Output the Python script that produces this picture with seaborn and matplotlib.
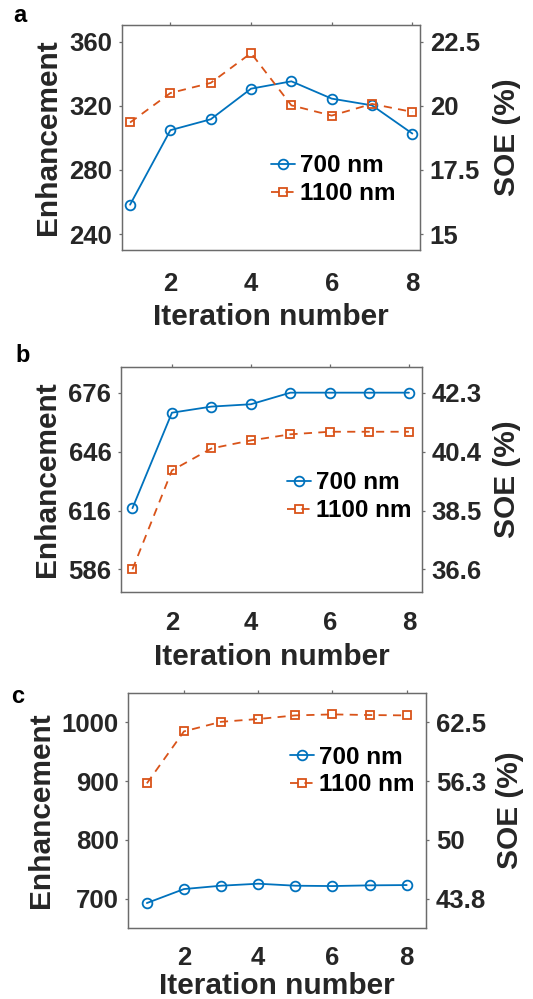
import matplotlib
matplotlib.use("Agg")
import matplotlib.pyplot as plt
import seaborn as sns
import pandas as pd

# ---------------- data ----------------
iterations = [1, 2, 3, 4, 5, 6, 7, 8]

a_700 = [258.3, 304.8, 311.6, 330.7, 335.3, 324.5, 320.3, 302.7]
a_1100 = [309.6, 328.0, 334.3, 352.9, 320.3, 313.9, 321.2, 316.2]

b_700 = [617.2, 665.8, 668.9, 670.1, 676.0, 676.0, 676.0, 676.0]
b_1100 = [586.0, 636.4, 647.6, 651.7, 654.8, 656.1, 656.1, 656.1]

c_700 = [692.6, 716.4, 722.1, 725.5, 722.1, 721.5, 722.7, 723.2]
c_1100 = [896.2, 984.7, 1001.0, 1005.7, 1011.9, 1013.6, 1012.5, 1011.9]

series_labels = ["700 nm", "1100 nm"]
panel_letters = ["a", "b", "c"]

enh_ticks_a = [240, 280, 320, 360]
enh_ticks_b = [586, 616, 646, 676]
enh_ticks_c = [700, 800, 900, 1000]

soe_labels_a = ["15", "17.5", "20", "22.5"]
soe_labels_b = ["36.6", "38.5", "40.4", "42.3"]
soe_labels_c = ["43.8", "50", "56.3", "62.5"]

x_ticks = [2, 4, 6, 8]
SOE_PER_ENH = 1 / 16.0

# ---------------- style ----------------
sns.set_theme(style="white")
plt.rcParams["font.family"] = ["Liberation Sans", "DejaVu Sans"]
plt.rcParams["font.weight"] = "bold"

BLUE = "#0072BD"
ORANGE = "#D95319"
SPINE = "#6b6b6b"
TXT = "#262626"

fig = plt.figure(figsize=(5.33, 9.99), dpi=100)

panels = [
    dict(rect=[0.2289, 0.7497, 0.5591, 0.2252], d700=a_700, d1100=a_1100,
         ylim=(230, 370.4), xlim=(0.8, 8.19), eticks=enh_ticks_a, slabels=soe_labels_a,
         leg=(0.499, 0.312), xlab_y=-0.298, ylab_x=-0.249, rlab_x=1.291, xpad=13.0,
         letter=(20 / 533, 1 - 15 / 999)),
    dict(rect=[0.2270, 0.4074, 0.5647, 0.2255], d700=b_700, d1100=b_1100,
         ylim=(574.5, 689.2), xlim=(0.71, 8.33), eticks=enh_ticks_b, slabels=soe_labels_b,
         leg=(0.5505, 0.4236), xlab_y=-0.288, ylab_x=-0.247, rlab_x=1.281, xpad=11.0,
         letter=(22.5 / 533, 1 - 355 / 999)),
    dict(rect=[0.2407, 0.0714, 0.5585, 0.2352], d700=c_700, d1100=c_1100,
         ylim=(650.7, 1050.5), xlim=(0.5, 8.52), eticks=enh_ticks_c, slabels=soe_labels_c,
         leg=(0.543, 0.667), xlab_y=-0.249, ylab_x=-0.293, rlab_x=1.282, xpad=11.0,
         letter=(17.5 / 533, 1 - 696.7 / 999)),
]

for letter, p in zip(panel_letters, panels):
    ax = fig.add_axes(p["rect"])
    df = pd.DataFrame({"it": iterations, "e700": p["d700"], "e1100": p["d1100"]})
    sns.lineplot(data=df, x="it", y="e700", ax=ax, color=BLUE, lw=1.3,
                 marker="o", markersize=7, markerfacecolor="none",
                 markeredgecolor=BLUE, markeredgewidth=1.3, label=series_labels[0])
    sns.lineplot(data=df, x="it", y="e1100", ax=ax, color=ORANGE, lw=1.3,
                 linestyle=(0, (4.5, 3.5)), marker="s", markersize=5.5,
                 markerfacecolor="none", markeredgecolor=ORANGE,
                 markeredgewidth=1.3, label=series_labels[1])

    ax.set_xlim(*p["xlim"])
    ax.set_ylim(*p["ylim"])
    ax.set_xticks(x_ticks)
    ax.set_yticks(p["eticks"])
    ax.tick_params(axis="both", which="both", direction="out", length=2.5,
                   width=0.9, color=SPINE, labelcolor=TXT, labelsize=18.5)
    ax.tick_params(axis="x", top=True, labeltop=False, pad=p["xpad"])
    ax.tick_params(axis="y", pad=4.5)
    for lab in ax.get_xticklabels() + ax.get_yticklabels():
        lab.set_fontweight("bold")
    for s in ax.spines.values():
        s.set_color(SPINE)
        s.set_linewidth(0.9)
        s.set_visible(True)

    ax.set_xlabel("Iteration number", fontsize=21.5, fontweight="bold",
                  color=TXT, va="center")
    ax.xaxis.set_label_coords(0.5, p["xlab_y"])
    ax.set_ylabel("Enhancement", fontsize=21.5, fontweight="bold",
                  color=TXT, va="center")
    ax.yaxis.set_label_coords(p["ylab_x"], 0.5)

    leg = ax.legend(loc="center left", bbox_to_anchor=p["leg"], frameon=False,
                    fontsize=17.5, handlelength=1.0, handletextpad=0.2,
                    labelspacing=0.2, borderpad=0, borderaxespad=0)
    for t in leg.get_texts():
        t.set_fontweight("bold")
        t.set_color("black")

    ax2 = ax.twinx()
    ax2.set_ylim(p["ylim"][0] * SOE_PER_ENH, p["ylim"][1] * SOE_PER_ENH)
    ax2.set_yticks([t * SOE_PER_ENH for t in p["eticks"]])
    ax2.set_yticklabels(p["slabels"])
    ax2.tick_params(axis="y", direction="out", length=2.5, width=0.9, color=SPINE,
                    labelcolor=TXT, labelsize=18.5, pad=4.5)
    for lab in ax2.get_yticklabels():
        lab.set_fontweight("bold")
    for s in ax2.spines.values():
        s.set_color(SPINE)
        s.set_linewidth(0.9)
    ax2.set_ylabel("SOE (%)", fontsize=21.5, fontweight="bold", color=TXT,
                   va="center", rotation=90)
    ax2.yaxis.set_label_coords(p["rlab_x"], 0.5)
    ax2.grid(False)
    ax.grid(False)

    fig.text(p["letter"][0], p["letter"][1], letter, fontsize=17,
             fontweight="bold", color="black", ha="center", va="center")

fig.savefig("out.png", dpi=100)
